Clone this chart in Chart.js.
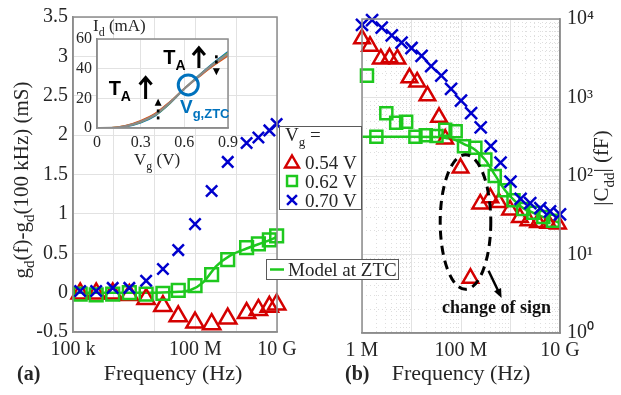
<!DOCTYPE html>
<html>
<head>
<meta charset="utf-8">
<script src="https://cdn.jsdelivr.net/npm/chart.js@4.4.1/dist/chart.umd.min.js"></script>
<style>
  body { margin: 0; background: #fff; }
  #wrap { position: relative; width: 621px; height: 395px; }
  #wrap canvas { position: absolute; left: 0; top: 0; }
</style>
</head>
<body>
<div id="wrap">
  <canvas id="cb" width="621" height="395"></canvas>
  <canvas id="ca" width="621" height="395"></canvas>
  <canvas id="ci" width="621" height="395"></canvas>
</div>
<script>
// panel (a): g_d(f) - g_d(100 kHz) in mS
const freqA = [1.5e5, 3.7e5, 9.4e5, 2.4e6, 6.2e6, 1.6e7, 3.8e7, 9.8e7, 2.5e8, 6.2e8, 1.8e9, 3.5e9, 6.5e9, 9.8e9];
const gdRed = [-0.01, -0.01, -0.01, -0.03, -0.08, -0.17, -0.30, -0.38, -0.40, -0.33, -0.26, -0.22, -0.18, -0.15];
const gdGreen = [-0.02, -0.03, -0.02, 0.0, -0.02, -0.01, 0.03, 0.09, 0.23, 0.42, 0.57, 0.62, 0.67, 0.72];
const gdBlue = [0.02, 0.02, 0.06, 0.06, 0.15, 0.30, 0.54, 0.87, 1.29, 1.66, 1.90, 1.97, 2.06, 2.14];
const freqModelA = [1e5, 1e6, 1e7, 4e7, 7.4e7, 1.55e8, 3.3e8, 7.1e8, 1.8e9, 6.8e9, 1e10];
const gdModel = [0, 0, 0, 0.01, 0.03, 0.13, 0.34, 0.47, 0.56, 0.67, 0.71];
const decadesA = [1e5, 1e6, 1e7, 1e8, 1e9, 1e10];
const labelsA = ['100 k', '', '', '100 M', '', '10 G'];

// panel (b): |C_dd| in fF
const freqRedB = [1e6, 1.45e6, 2.4e6, 3.6e6, 5.2e6, 9.1e6, 1.3e7, 2.1e7, 3.6e7, 4.8e7, 9.8e7,
                  1.55e8, 2.45e8, 3.9e8, 5.8e8, 9.8e8, 1.55e9, 2.3e9, 3.6e9, 5.8e9, 9.1e9];
const cddRed = [5600, 4500, 3100, 3200, 3100, 1780, 1580, 1050, 560, 295, 126,
                5.0, 44, 53, 46, 37, 29.5, 27, 25.5, 25, 24.5];
const freqGreenB = [1.26e6, 1.95e6, 3.1e6, 4.9e6, 7.8e6, 1.2e7, 1.95e7, 3.2e7, 4.8e7, 7.8e7,
                    1.15e8, 1.95e8, 3.1e8, 4.8e8, 7.6e8, 1.15e9, 1.8e9, 2.9e9, 4.6e9, 7.2e9];
const cddGreen = [1900, 316, 630, 478, 490, 316, 331, 324, 389, 372,
                  240, 229, 162, 100, 66, 49, 38, 34, 30, 27];
const freqBlueB = [1e6, 1.6e6, 2.5e6, 4e6, 6.3e6, 1e7, 1.6e7, 2.5e7, 4e7, 6.3e7, 1e8,
                   1.6e8, 2.5e8, 4e8, 6.3e8, 1e9, 1.6e9, 2.5e9, 4e9, 6.3e9, 1e10];
const cddBlue = [8400, 9700, 7760, 6170, 5010, 4270, 3390, 2510, 1900, 1290, 912,
                 631, 417, 240, 148, 85, 51, 45, 39, 35.5, 32.4];
const freqModelB = [1e6, 1e7, 3e7, 5e7, 8e7, 1.15e8, 1.95e8, 3.1e8, 4.8e8, 7.6e8, 1.15e9, 1.8e9, 2.9e9, 4.6e9, 7.2e9, 1e10];
const cddModel = [316, 316, 314, 305, 285, 255, 215, 160, 104, 67, 50, 39, 34, 30, 27, 25.5];
const decadesBx = [1e6, 1e7, 1e8, 1e9, 1e10];
const labelsBx = ['1 M', '', '100 M', '', '10 G'];
const decadesBy = [1, 10, 100, 1000, 10000];
const labelsBy = ['10\u2070', '10\u00b9', '10\u00b2', '10\u00b3', '10\u2074'];

// inset: I_d (mA) vs V_g (V) at several temperatures
const vgInset = [0, 0.1, 0.2, 0.3, 0.4, 0.5, 0.6, 0.7, 0.8, 0.9];
const idCold = [0, 0.05, 0.9, 3.5, 8.2, 16.3, 26.3, 35.6, 44, 51.5];
const idGreen = [0, 0.08, 1.1, 3.8, 8.6, 16.6, 26.4, 35.3, 43.5, 50.8];
const idMid = [0, 0.1, 1.3, 4.2, 9.0, 17.0, 26.5, 35.0, 43.0, 50.0];
const idOrange = [0, 0.15, 1.5, 4.6, 9.5, 17.4, 26.6, 34.7, 42.5, 49.3];
const idHot = [0, 0.2, 1.8, 5.0, 9.9, 17.7, 26.6, 34.4, 42.0, 48.6];
const insetTicksX = [0, 0.3, 0.6, 0.9];

// annotation anchors (data units)
const ztc = { vg: 0.627, id: 29 };
const signLoop = { fLo: 3.8e7, fHi: 4e8, cHi: 187, cLo: 3.6 };
const signArrow = { f1: 3.6e8, c1: 6.2, f2: 6.6e8, c2: 2.8 };
const signText = { f: 5.2e8, c: 1.78 };

const SERIF = '"Liberation Serif", "Times New Roman", serif';
const SANS = '"Liberation Sans", Arial, sans-serif';
const INK = '#262626';
const AXIS = '#8c8c8c';
const GRID = '#e2e2e2';
const MINOR = '#dedede';
const RED = '#d40000', GREEN = '#1ec81e', BLUE = '#0000cd', ZTC = '#0072bd';

Chart.defaults.font.family = SERIF;
Chart.defaults.color = INK;

function xy(xs, ys) {
  return xs.map((x, i) => ({ x: x, y: ys[i] }));
}

// text with sub/superscripts, drawn on the alphabetic baseline
function rich(ctx, parts, x, y, size, opts) {
  opts = opts || {};
  const fam = opts.family || SERIF;
  const wt = opts.weight || 'normal';
  const segs = parts.map(p => {
    const s = p[1] === 'n' ? size : Math.round(size * 0.7);
    ctx.font = wt + ' ' + s + 'px ' + fam;
    return { t: p[0], k: p[1], s: s, w: ctx.measureText(p[0]).width };
  });
  const total = segs.reduce((a, g) => a + g.w, 0);
  let cx = opts.align === 'center' ? x - total / 2 : x;
  ctx.textAlign = 'left';
  ctx.textBaseline = 'alphabetic';
  segs.forEach(g => {
    ctx.font = wt + ' ' + g.s + 'px ' + fam;
    const dy = g.k === 'sub' ? size * 0.28 : (g.k === 'sup' ? -size * 0.4 : 0);
    ctx.fillText(g.t, cx, y + dy);
    cx += g.w;
  });
}

function marker(ctx, style, x, y, r, color) {
  ctx.save();
  ctx.strokeStyle = color;
  ctx.lineWidth = 2.5;
  ctx.beginPath();
  if (style === 'triangle') {
    ctx.moveTo(x, y - r);
    ctx.lineTo(x + r * 0.866, y + r / 2);
    ctx.lineTo(x - r * 0.866, y + r / 2);
    ctx.closePath();
  } else if (style === 'rect') {
    const s = r * 0.707;
    ctx.rect(x - s, y - s, 2 * s, 2 * s);
  } else {
    const s = r * 0.707;
    ctx.moveTo(x - s, y - s); ctx.lineTo(x + s, y + s);
    ctx.moveTo(x + s, y - s); ctx.lineTo(x - s, y + s);
  }
  ctx.stroke();
  ctx.restore();
}

function minorTicks(decs) {
  const out = [];
  for (let i = 0; i < decs.length - 1; i++) {
    for (let k = 2; k <= 9; k++) out.push({ value: decs[i] * k });
  }
  return out;
}

// ---------- panel (b) ----------
const panelB = {
  id: 'panelB',
  afterDraw(chart) {
    const { ctx, chartArea: a } = chart;
    const sx = chart.scales.x, sy = chart.scales.y;
    ctx.save();
    ctx.strokeStyle = AXIS; ctx.lineWidth = 1.5;
    ctx.strokeRect(a.left, a.top, a.right - a.left, a.bottom - a.top);

    ctx.fillStyle = INK;
    rich(ctx, [['Frequency (Hz)', 'n']], 461, 380, 22, { align: 'center' });
    rich(ctx, [['(b)', 'n']], 345, 380, 20, { weight: 'bold' });

    ctx.save();
    ctx.translate(608, 168);
    ctx.rotate(-Math.PI / 2);
    rich(ctx, [['|C', 'n'], ['dd', 'sub'], ['| (fF)', 'n']], 0, 0, 21, { align: 'center' });
    ctx.restore();

    // dashed loop around the sign change
    const x1 = sx.getPixelForValue(signLoop.fLo), x2 = sx.getPixelForValue(signLoop.fHi);
    const y1 = sy.getPixelForValue(signLoop.cHi), y2 = sy.getPixelForValue(signLoop.cLo);
    ctx.strokeStyle = '#000'; ctx.lineWidth = 3; ctx.setLineDash([9, 6]);
    ctx.beginPath();
    ctx.ellipse((x1 + x2) / 2, (y1 + y2) / 2, (x2 - x1) / 2, (y2 - y1) / 2, 0, 0, 2 * Math.PI);
    ctx.stroke();
    ctx.setLineDash([]);

    const ax1 = sx.getPixelForValue(signArrow.f1), ay1 = sy.getPixelForValue(signArrow.c1);
    const ax2 = sx.getPixelForValue(signArrow.f2), ay2 = sy.getPixelForValue(signArrow.c2);
    const ang = Math.atan2(ay2 - ay1, ax2 - ax1);
    ctx.lineWidth = 2.5;
    ctx.beginPath(); ctx.moveTo(ax1, ay1);
    ctx.lineTo(ax2 - 6 * Math.cos(ang), ay2 - 6 * Math.sin(ang)); ctx.stroke();
    ctx.fillStyle = '#000';
    ctx.beginPath();
    ctx.moveTo(ax2, ay2);
    ctx.lineTo(ax2 - 10 * Math.cos(ang - 0.4), ay2 - 10 * Math.sin(ang - 0.4));
    ctx.lineTo(ax2 - 10 * Math.cos(ang + 0.4), ay2 - 10 * Math.sin(ang + 0.4));
    ctx.closePath(); ctx.fill();

    ctx.fillStyle = '#111';
    rich(ctx, [['change of sign', 'n']], sx.getPixelForValue(signText.f), sy.getPixelForValue(signText.c),
         18, { align: 'center', weight: 'bold' });
    ctx.restore();
  }
};

new Chart(document.getElementById('cb'), {
  type: 'scatter',
  data: {
    datasets: [
      { label: '0.54 V', data: xy(freqRedB, cddRed), pointStyle: 'triangle', pointRadius: 9,
        borderColor: RED, backgroundColor: 'transparent', borderWidth: 2.5, order: 2, clip: false },
      { label: '0.62 V', data: xy(freqGreenB, cddGreen), pointStyle: 'rect', pointRadius: 8.5,
        borderColor: GREEN, backgroundColor: 'transparent', borderWidth: 2.5, order: 1, clip: false },
      { label: '0.70 V', data: xy(freqBlueB, cddBlue), pointStyle: 'crossRot', pointRadius: 8.5,
        borderColor: BLUE, backgroundColor: 'transparent', borderWidth: 2.5, order: 0, clip: false },
      { label: 'Model at ZTC', data: xy(freqModelB, cddModel), showLine: true, pointRadius: 0,
        borderColor: GREEN, borderWidth: 2.5, cubicInterpolationMode: 'monotone', order: 3 }
    ]
  },
  options: {
    responsive: false,
    animation: false,
    layout: { padding: { left: 362, top: 14, right: 0, bottom: 0 } },
    plugins: { legend: { display: false }, tooltip: { enabled: false } },
    scales: {
      x: {
        type: 'logarithmic', min: 1e6, max: 1e10, position: 'bottom',
        afterBuildTicks: s => { s.ticks = decadesBx.map(v => ({ value: v })); },
        afterFit: s => { s.height = 62; },
        ticks: { autoSkip: false, maxRotation: 0, padding: 6, font: { size: 20 }, color: INK,
                 callback: v => labelsBx[decadesBx.indexOf(v)] },
        grid: { color: GRID, drawTicks: false },
        border: { color: AXIS, width: 1.5 }
      },
      xm: {
        type: 'logarithmic', min: 1e6, max: 1e10, position: 'bottom',
        afterBuildTicks: s => { s.ticks = minorTicks(decadesBx); },
        afterFit: s => { s.height = 0; },
        ticks: { display: false, autoSkip: false },
        grid: { color: MINOR, drawTicks: false },
        border: { display: false, dash: [1, 3] }
      },
      y: {
        type: 'logarithmic', min: 1, max: 1e4, position: 'right',
        afterBuildTicks: s => { s.ticks = decadesBy.map(v => ({ value: v })); },
        afterFit: s => { s.width = 61; },
        ticks: { autoSkip: false, padding: 7, font: { size: 20 }, color: INK,
                 callback: v => labelsBy[decadesBy.indexOf(v)] },
        grid: { color: GRID, drawTicks: false },
        border: { color: AXIS, width: 1.5 }
      },
      ym: {
        type: 'logarithmic', min: 1, max: 1e4, position: 'right',
        afterBuildTicks: s => { s.ticks = minorTicks(decadesBy); },
        afterFit: s => { s.width = 0; },
        ticks: { display: false, autoSkip: false },
        grid: { color: MINOR, drawTicks: false },
        border: { display: false, dash: [1, 3] }
      }
    }
  },
  plugins: [panelB]
});

// ---------- panel (a) ----------
const panelA = {
  id: 'panelA',
  afterDraw(chart) {
    const { ctx, chartArea: a } = chart;
    ctx.save();
    ctx.strokeStyle = AXIS; ctx.lineWidth = 1.5;
    ctx.strokeRect(a.left, a.top, a.right - a.left, a.bottom - a.top);

    ctx.fillStyle = INK;
    rich(ctx, [['Frequency (Hz)', 'n']], 173, 380, 22, { align: 'center' });
    rich(ctx, [['(a)', 'n']], 17, 380, 20, { weight: 'bold' });

    ctx.save();
    ctx.translate(28, 180);
    ctx.rotate(-Math.PI / 2);
    rich(ctx, [['g', 'n'], ['d', 'sub'], ['(f)-g', 'n'], ['d', 'sub'], ['(100 kHz) (mS)', 'n']], 0, 0, 21, { align: 'center' });
    ctx.restore();

    // legend: V_g values
    ctx.fillStyle = '#fff'; ctx.fillRect(279, 126, 82, 83);
    ctx.strokeStyle = '#5a5a5a'; ctx.lineWidth = 1; ctx.strokeRect(279.5, 126.5, 82, 83);
    ctx.fillStyle = INK;
    rich(ctx, [['V', 'n'], ['g', 'sub'], [' =', 'n']], 285, 141, 19);
    const items = [['triangle', RED, '0.54 V'], ['rect', GREEN, '0.62 V'], ['crossRot', BLUE, '0.70 V']];
    items.forEach((it, i) => {
      const yy = 162 + i * 19;
      marker(ctx, it[0], 292, it[0] === 'triangle' ? yy + 1.5 : yy, it[0] === 'triangle' ? 8 : 7, it[1]);
      ctx.fillStyle = INK;
      rich(ctx, [[it[2], 'n']], 305, yy + 6.5, 19);
    });

    // legend: model line
    ctx.fillStyle = '#fff'; ctx.fillRect(266, 259, 132, 20);
    ctx.strokeStyle = '#5a5a5a'; ctx.lineWidth = 1; ctx.strokeRect(266.5, 259.5, 132, 20);
    ctx.strokeStyle = GREEN; ctx.lineWidth = 2.5;
    ctx.beginPath(); ctx.moveTo(270, 269.5); ctx.lineTo(284, 269.5); ctx.stroke();
    ctx.fillStyle = INK;
    rich(ctx, [['Model at ZTC', 'n']], 288, 276, 19);
    ctx.restore();
  }
};

new Chart(document.getElementById('ca'), {
  type: 'scatter',
  data: {
    datasets: [
      { label: '0.54 V', data: xy(freqA, gdRed), pointStyle: 'triangle', pointRadius: 10,
        borderColor: RED, backgroundColor: 'transparent', borderWidth: 2.5, order: 2, clip: false },
      { label: '0.62 V', data: xy(freqA, gdGreen), pointStyle: 'rect', pointRadius: 9,
        borderColor: GREEN, backgroundColor: 'transparent', borderWidth: 2.5, order: 1, clip: false },
      { label: '0.70 V', data: xy(freqA, gdBlue), pointStyle: 'crossRot', pointRadius: 8,
        borderColor: BLUE, backgroundColor: 'transparent', borderWidth: 2.5, order: 0, clip: false },
      { label: 'Model at ZTC', data: xy(freqModelA, gdModel), showLine: true, pointRadius: 0,
        borderColor: GREEN, borderWidth: 2.5, cubicInterpolationMode: 'monotone', order: 3 }
    ]
  },
  options: {
    responsive: false,
    animation: false,
    layout: { padding: { left: 0, top: 14, right: 344, bottom: 0 } },
    plugins: { legend: { display: false }, tooltip: { enabled: false } },
    scales: {
      x: {
        type: 'logarithmic', min: 1e5, max: 1e10,
        afterBuildTicks: s => { s.ticks = decadesA.map(v => ({ value: v })); },
        afterFit: s => { s.height = 63; },
        ticks: { autoSkip: false, maxRotation: 0, padding: 6, font: { size: 20 }, color: INK,
                 callback: v => labelsA[decadesA.indexOf(v)] },
        grid: { color: GRID, drawTicks: false },
        border: { color: AXIS, width: 1.5 }
      },
      y: {
        min: -0.5, max: 3.5,
        afterFit: s => { s.width = 73; },
        ticks: { stepSize: 0.5, padding: 5, font: { size: 20 }, color: INK,
                 callback: v => String(Math.round(v * 10) / 10) },
        grid: { color: GRID, drawTicks: false },
        border: { color: AXIS, width: 1.5 }
      }
    }
  },
  plugins: [panelA]
});

// ---------- inset ----------
function upArrow(ctx, x, yTop, yBot) {
  ctx.beginPath();
  ctx.moveTo(x, yBot); ctx.lineTo(x, yTop + 1);
  ctx.moveTo(x - 6, yTop + 7); ctx.lineTo(x, yTop); ctx.lineTo(x + 6, yTop + 7);
  ctx.stroke();
}

function smallTri(ctx, x, yTip, up) {
  const h = up ? 7 : -7;
  ctx.beginPath();
  ctx.moveTo(x, yTip); ctx.lineTo(x - 3.5, yTip + h); ctx.lineTo(x + 3.5, yTip + h);
  ctx.closePath(); ctx.fill();
}

const insetDeco = {
  id: 'insetDeco',
  beforeDraw(chart) {
    const { ctx, chartArea: a } = chart;
    ctx.save();
    ctx.fillStyle = '#fff';
    ctx.fillRect(a.left, a.top, a.right - a.left, a.bottom - a.top);
    ctx.restore();
  },
  afterDraw(chart) {
    const { ctx, chartArea: a } = chart;
    const sx = chart.scales.x, sy = chart.scales.y;
    const px = v => sx.getPixelForValue(v), py = v => sy.getPixelForValue(v);
    ctx.save();
    ctx.strokeStyle = AXIS; ctx.lineWidth = 1.5;
    ctx.strokeRect(a.left, a.top, a.right - a.left, a.bottom - a.top);

    ctx.fillStyle = INK;
    rich(ctx, [['I', 'n'], ['d', 'sub'], [' (mA)', 'n']], 93, 31, 17);
    rich(ctx, [['V', 'n'], ['g', 'sub'], [' (V)', 'n']], 157, 165, 17, { align: 'center' });

    // temperature labels and arrows
    ctx.fillStyle = '#000';
    rich(ctx, [['T', 'n'], ['A', 'sub']], px(0.08), py(22), 20, { family: SANS, weight: 'bold' });
    rich(ctx, [['T', 'n'], ['A', 'sub']], px(0.455), py(43), 20, { family: SANS, weight: 'bold' });
    ctx.strokeStyle = '#000'; ctx.lineWidth = 3; ctx.lineJoin = 'miter';
    upArrow(ctx, px(0.334), py(34), py(19.5));
    upArrow(ctx, px(0.70), py(54), py(40.5));

    // small markers showing the direction of I_d change
    smallTri(ctx, px(0.42), py(19.8), true);
    ctx.fillRect(px(0.42) - 1.3, py(12.5), 2.6, 3);
    ctx.fillRect(px(0.42) - 1.3, py(7.8), 2.6, 3);
    ctx.fillRect(px(0.82) - 1.3, py(49), 2.6, 3);
    ctx.fillRect(px(0.82) - 1.3, py(45.5), 2.6, 3);
    smallTri(ctx, px(0.82), py(35.5), false);

    // zero temperature coefficient point
    ctx.strokeStyle = ZTC; ctx.lineWidth = 3;
    ctx.beginPath(); ctx.arc(px(ztc.vg), py(ztc.id), 10, 0, 2 * Math.PI); ctx.stroke();
    ctx.fillStyle = ZTC;
    rich(ctx, [['V', 'n'], ['g,ZTC', 'sub']], px(0.57), py(10), 19, { family: SANS, weight: 'bold' });
    ctx.restore();
  }
};

const tempCurves = [
  [idCold, '#0072bd'], [idGreen, '#77ac30'], [idOrange, '#edb120'], [idHot, '#d95319'], [idMid, '#8a8a8a']
];

new Chart(document.getElementById('ci'), {
  type: 'scatter',
  data: {
    datasets: tempCurves.map((c, i) => ({
      data: xy(vgInset, c[0]), showLine: true, pointRadius: 0,
      borderColor: c[1], borderWidth: i === tempCurves.length - 1 ? 2.2 : 1.4,
      cubicInterpolationMode: 'monotone', order: tempCurves.length - i
    }))
  },
  options: {
    responsive: false,
    animation: false,
    layout: { padding: { left: 0, top: 39, right: 393, bottom: 0 } },
    plugins: { legend: { display: false }, tooltip: { enabled: false } },
    scales: {
      x: {
        type: 'linear', min: 0, max: 0.9,
        afterBuildTicks: s => { s.ticks = insetTicksX.map(v => ({ value: v })); },
        afterFit: s => { s.height = 267; },
        ticks: { autoSkip: false, maxRotation: 0, padding: 5, font: { size: 16 }, color: INK,
                 callback: v => String(v) },
        grid: { color: GRID, drawTicks: false },
        border: { color: AXIS, width: 1.5 }
      },
      y: {
        min: 0, max: 60,
        afterFit: s => { s.width = 97; },
        ticks: { stepSize: 20, padding: 5, font: { size: 16 }, color: INK },
        grid: { color: GRID, drawTicks: false },
        border: { color: AXIS, width: 1.5 }
      }
    }
  },
  plugins: [insetDeco]
});
</script>
</body>
</html>
